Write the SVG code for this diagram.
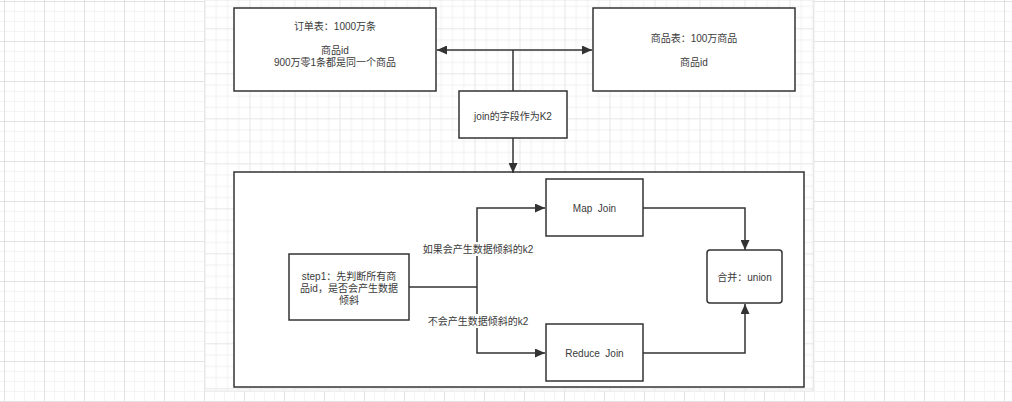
<svg xmlns="http://www.w3.org/2000/svg" width="1012" height="402" viewBox="0 0 1012 402">
  <style>
    .box { fill: #ffffff; stroke: #333333; stroke-width: 1.5; }
    .lbl { font-family: "Liberation Sans", "Noto Sans CJK SC", sans-serif; font-size: 10px; fill: #3a3a3a; text-anchor: middle; dominant-baseline: central; white-space: pre; }
    .edge { fill: none; stroke: #333333; stroke-width: 1.5; }
    .tag { fill: #ffffff; }
  </style>
  <defs>
    <!-- outer page grid: 10px minor, 40px major -->
    <pattern id="gridOuter" patternUnits="userSpaceOnUse" x="4" y="1" width="40" height="40">
      <rect width="40" height="40" fill="#ffffff"/>
      <rect x="10" width="1" height="40" fill="#f4f4f4"/>
      <rect x="20" width="1" height="40" fill="#f4f4f4"/>
      <rect x="30" width="1" height="40" fill="#f4f4f4"/>
      <rect y="10" width="40" height="1" fill="#f4f4f4"/>
      <rect y="20" width="40" height="1" fill="#f4f4f4"/>
      <rect y="30" width="40" height="1" fill="#f4f4f4"/>
      <rect width="1" height="40" fill="#e2e2e2"/>
      <rect width="40" height="1" fill="#e2e2e2"/>
    </pattern>
    <!-- canvas grid: 11.25px minor, 45px major -->
    <pattern id="gridCanvas" patternUnits="userSpaceOnUse" x="204.5" y="28.3" width="45" height="45">
      <rect width="45" height="45" fill="#ffffff"/>
      <rect x="11.25" width="1" height="45" fill="#f1f1f1"/>
      <rect x="22.5" width="1" height="45" fill="#f1f1f1"/>
      <rect x="33.75" width="1" height="45" fill="#f1f1f1"/>
      <rect y="11.25" width="45" height="1" fill="#f1f1f1"/>
      <rect y="22.5" width="45" height="1" fill="#f1f1f1"/>
      <rect y="33.75" width="45" height="1" fill="#f1f1f1"/>
      <rect width="1" height="45" fill="#e6e6e6"/>
      <rect width="45" height="1" fill="#e6e6e6"/>
    </pattern>
    <marker id="arrow" markerUnits="userSpaceOnUse" markerWidth="11" markerHeight="9" refX="10" refY="4.5" orient="auto">
      <path d="M0,0 L10,4.5 L0,9 Z" fill="#333333"/>
    </marker>
  </defs>

  <rect x="0" y="0" width="1012" height="402" fill="url(#gridOuter)"/>
  <rect x="204.5" y="0" width="609" height="391" fill="url(#gridCanvas)" stroke="#e8e8e8" stroke-width="1"/>

  <!-- outer container -->
  <g id="container">
    <rect class="box" x="234" y="172" width="570" height="215"/>
  </g>

  <g id="connectors">
    <path class="edge" d="M513,50 H437" marker-end="url(#arrow)"/>
    <path class="edge" d="M513,50 H592" marker-end="url(#arrow)"/>
    <path class="edge" d="M513,50 V91"/>
    <path class="edge" d="M513,138 V173" marker-end="url(#arrow)"/>
    <path class="edge" d="M409,287 H477"/>
    <path class="edge" d="M477,287 V208 H545" marker-end="url(#arrow)"/>
    <path class="edge" d="M477,287 V353 H545" marker-end="url(#arrow)"/>
    <path class="edge" d="M643,208 H745 V250" marker-end="url(#arrow)"/>
    <path class="edge" d="M643,353 H745 V304" marker-end="url(#arrow)"/>
    <rect class="tag" x="424" y="242" width="108" height="14"/>
    <text class="lbl" x="478" y="249">如果会产生数据倾斜的k2</text>
    <rect class="tag" x="429" y="314" width="98" height="14"/>
    <text class="lbl" x="478" y="321">不会产生数据倾斜的k2</text>
  </g>

  <g id="orders">
    <rect class="box" x="234" y="8" width="202" height="83"/>
    <text class="lbl" x="335" y="26">订单表：1000万条</text>
    <text class="lbl" x="335" y="50">商品id<tspan x="335" dy="12">900万零1条都是同一个商品</tspan></text>
  </g>

  <g id="products">
    <rect class="box" x="593" y="8" width="202" height="83"/>
    <text class="lbl" x="694" y="38">商品表：100万商品</text>
    <text class="lbl" x="694" y="62">商品id</text>
  </g>

  <g id="joinKey">
    <rect class="box" x="459" y="91" width="108" height="47"/>
    <text class="lbl" x="513" y="116">join的字段作为K2</text>
  </g>

  <g id="step1">
    <rect class="box" x="289" y="254" width="120" height="66"/>
    <text class="lbl" x="349" y="276">step1：先判断所有商<tspan x="349" dy="12">品id，是否会产生数据</tspan><tspan x="349" dy="12">倾斜</tspan></text>
  </g>

  <g id="mapJoin">
    <rect class="box" x="546" y="179" width="97" height="57"/>
    <text class="lbl" x="594.5" y="208">Map  Join</text>
  </g>

  <g id="reduceJoin">
    <rect class="box" x="546" y="324" width="97" height="57"/>
    <text class="lbl" x="594.5" y="353">Reduce  Join</text>
  </g>

  <g id="union">
    <rect class="box" x="707" y="250" width="75" height="53" rx="3" ry="3"/>
    <text class="lbl" x="744.5" y="277">合并：union</text>
  </g>
</svg>
